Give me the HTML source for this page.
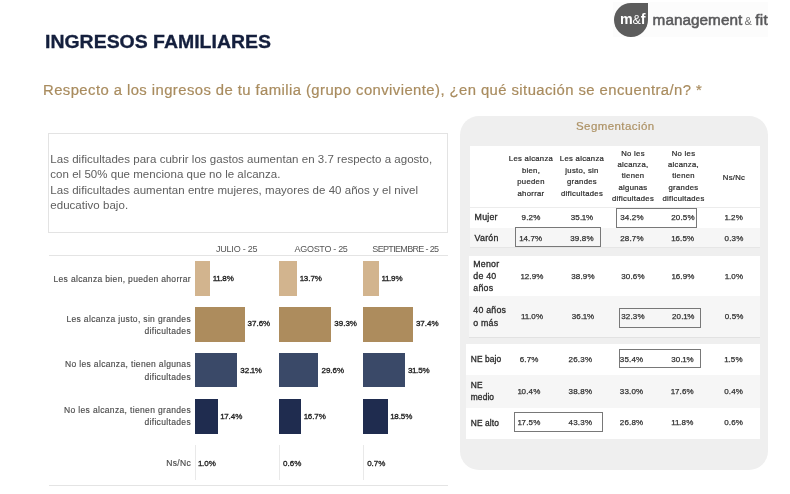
<!DOCTYPE html>
<html lang="es"><head><meta charset="utf-8"><title>Ingresos familiares</title>
<style>
html,body{margin:0;padding:0;background:#fff;}
body{width:790px;height:494px;position:relative;overflow:hidden;font-family:"Liberation Sans",sans-serif;}
.t{position:absolute;white-space:nowrap;}
.r{position:absolute;}
i{font-style:normal;}
.bx{position:absolute;border:1px solid #787878;box-sizing:border-box;}
</style></head><body>
<div class="t" style="left:45.20px;top:31px;font-size:17.6px;line-height:22px;color:#141f3d;font-weight:700;transform-origin:0 0;transform:scaleX(1.106);-webkit-text-stroke:0.3px #141f3d;">INGRESOS FAMILIARES</div>
<div class="t" style="left:43.00px;top:81px;font-size:14px;line-height:18px;color:#a98c5f;letter-spacing:0.40px;transform-origin:0 0;transform:scaleX(1.061);-webkit-text-stroke:0.2px #a98c5f;">Respecto a los ingresos de tu familia (grupo conviviente), ¿en qué situación se encuentra/n? *</div>
<div class="r" style="left:613.00px;top:2.00px;width:155.00px;height:35.00px;background:#fcfcfc;"></div>
<div class="r" style="left:614.00px;top:2.50px;width:34.00px;height:34.20px;background:#5c5c5c;border-radius:50% 0 50% 50%;"></div>
<div class="t" style="left:612.80px;width:40px;top:10px;font-size:14.3px;line-height:18px;color:#ffffff;font-weight:700;letter-spacing:0.20px;text-align:center;">m<span style="font-size:12.5px;font-weight:400;margin:0 -0.3px">&amp;</span>f</div>
<div class="t" style="left:652.60px;top:10px;font-size:15.3px;line-height:19px;color:#59595b;letter-spacing:0.04px;-webkit-text-stroke:0.55px #59595b;">management<span style="font-size:11px;color:#707070;margin:0 0.3px 0 -0.9px;-webkit-text-stroke:0"> &amp; </span><span style="letter-spacing:0.3px">fit</span></div>
<div class="r" style="left:47.50px;top:133.00px;width:400.50px;height:99.60px;background:#fff;border:1px solid #e3e3e3;box-sizing:border-box;"></div>
<div class="t" style="left:50.30px;top:152px;font-size:11.5px;line-height:14px;color:#5e5e5e;letter-spacing:0.03px;">Las dificultades para cubrir los gastos aumentan en 3.7 respecto a agosto,</div>
<div class="t" style="left:50.30px;top:167px;font-size:11.5px;line-height:14px;color:#5e5e5e;letter-spacing:0.03px;">con el 50% que menciona que no le alcanza.</div>
<div class="t" style="left:50.30px;top:183px;font-size:11.5px;line-height:14px;color:#5e5e5e;letter-spacing:0.03px;">Las dificultades aumentan entre mujeres, mayores de 40 años y el nivel</div>
<div class="t" style="left:50.30px;top:198px;font-size:11.5px;line-height:14px;color:#5e5e5e;letter-spacing:0.03px;">educativo bajo.</div>
<div class="r" style="left:49.00px;top:255.00px;width:398.70px;height:1.00px;background:#e4e4e4;"></div>
<div class="r" style="left:49.00px;top:485.00px;width:398.70px;height:1.00px;background:#e4e4e4;"></div>
<div class="t" style="left:216.00px;top:243px;font-size:9px;line-height:12px;color:#555;letter-spacing:-0.22px;">JULIO - 25</div>
<div class="t" style="left:294.60px;top:243px;font-size:9px;line-height:12px;color:#555;letter-spacing:-0.31px;">AGOSTO - 25</div>
<div class="t" style="left:372.30px;top:243px;font-size:9px;line-height:12px;color:#555;letter-spacing:-0.66px;">SEPTIEMBRE - 25</div>
<div class="r" style="left:194.60px;top:261.00px;width:15.69px;height:34.80px;background:#d2b48e;"></div>
<div class="t" style="left:213.29px;top:273px;font-size:8.0px;line-height:11px;color:#1e1e1e;letter-spacing:-0.02px;-webkit-text-stroke:0.32px #1e1e1e;"><i style="margin:0 -0.5px">1</i><i style="margin:0 -0.5px">1</i>.8%</div>
<div class="r" style="left:279.10px;top:261.00px;width:18.22px;height:34.80px;background:#d2b48e;"></div>
<div class="t" style="left:300.32px;top:273px;font-size:8.0px;line-height:11px;color:#1e1e1e;letter-spacing:-0.02px;-webkit-text-stroke:0.32px #1e1e1e;"><i style="margin:0 -0.5px">1</i>3.7%</div>
<div class="r" style="left:363.20px;top:261.00px;width:15.83px;height:34.80px;background:#d2b48e;"></div>
<div class="t" style="left:382.03px;top:273px;font-size:8.0px;line-height:11px;color:#1e1e1e;letter-spacing:-0.02px;-webkit-text-stroke:0.32px #1e1e1e;"><i style="margin:0 -0.5px">1</i><i style="margin:0 -0.5px">1</i>.9%</div>
<div class="t" style="right:599.00px;top:273px;font-size:8.5px;line-height:12px;color:#4c4c4c;letter-spacing:0.34px;text-align:right;-webkit-text-stroke:0.15px #4c4c4c;">Les alcanza bien, pueden ahorrar</div>
<div class="r" style="left:194.60px;top:307.40px;width:50.01px;height:34.20px;background:#ad8c5d;"></div>
<div class="t" style="left:247.61px;top:318px;font-size:8.0px;line-height:11px;color:#1e1e1e;letter-spacing:-0.02px;-webkit-text-stroke:0.32px #1e1e1e;">37.6%</div>
<div class="r" style="left:279.10px;top:307.40px;width:52.27px;height:34.20px;background:#ad8c5d;"></div>
<div class="t" style="left:334.37px;top:318px;font-size:8.0px;line-height:11px;color:#1e1e1e;letter-spacing:-0.02px;-webkit-text-stroke:0.32px #1e1e1e;">39.3%</div>
<div class="r" style="left:363.20px;top:307.40px;width:49.74px;height:34.20px;background:#ad8c5d;"></div>
<div class="t" style="left:415.94px;top:318px;font-size:8.0px;line-height:11px;color:#1e1e1e;letter-spacing:-0.02px;-webkit-text-stroke:0.32px #1e1e1e;">37.4%</div>
<div class="t" style="right:599.00px;top:313px;font-size:8.5px;line-height:12px;color:#4c4c4c;letter-spacing:0.34px;text-align:right;-webkit-text-stroke:0.15px #4c4c4c;">Les alcanza justo, sin grandes</div>
<div class="t" style="right:599.00px;top:325px;font-size:8.5px;line-height:12px;color:#4c4c4c;letter-spacing:0.34px;text-align:right;-webkit-text-stroke:0.15px #4c4c4c;">dificultades</div>
<div class="r" style="left:194.60px;top:353.20px;width:42.69px;height:34.30px;background:#3a4968;"></div>
<div class="t" style="left:240.29px;top:365px;font-size:8.0px;line-height:11px;color:#1e1e1e;letter-spacing:-0.02px;-webkit-text-stroke:0.32px #1e1e1e;">32.<i style="margin:0 -0.5px">1</i>%</div>
<div class="r" style="left:279.10px;top:353.20px;width:39.37px;height:34.30px;background:#3a4968;"></div>
<div class="t" style="left:321.47px;top:365px;font-size:8.0px;line-height:11px;color:#1e1e1e;letter-spacing:-0.02px;-webkit-text-stroke:0.32px #1e1e1e;">29.6%</div>
<div class="r" style="left:363.20px;top:353.20px;width:41.89px;height:34.30px;background:#3a4968;"></div>
<div class="t" style="left:408.09px;top:365px;font-size:8.0px;line-height:11px;color:#1e1e1e;letter-spacing:-0.02px;-webkit-text-stroke:0.32px #1e1e1e;">3<i style="margin:0 -0.5px">1</i>.5%</div>
<div class="t" style="right:599.00px;top:358px;font-size:8.5px;line-height:12px;color:#4c4c4c;letter-spacing:0.34px;text-align:right;-webkit-text-stroke:0.15px #4c4c4c;">No les alcanza, tienen algunas</div>
<div class="t" style="right:599.00px;top:371px;font-size:8.5px;line-height:12px;color:#4c4c4c;letter-spacing:0.34px;text-align:right;-webkit-text-stroke:0.15px #4c4c4c;">dificultades</div>
<div class="r" style="left:194.60px;top:399.40px;width:23.14px;height:34.40px;background:#1f2c4f;"></div>
<div class="t" style="left:220.74px;top:411px;font-size:8.0px;line-height:11px;color:#1e1e1e;letter-spacing:-0.02px;-webkit-text-stroke:0.32px #1e1e1e;"><i style="margin:0 -0.5px">1</i>7.4%</div>
<div class="r" style="left:279.10px;top:399.40px;width:22.21px;height:34.40px;background:#1f2c4f;"></div>
<div class="t" style="left:304.31px;top:411px;font-size:8.0px;line-height:11px;color:#1e1e1e;letter-spacing:-0.02px;-webkit-text-stroke:0.32px #1e1e1e;"><i style="margin:0 -0.5px">1</i>6.7%</div>
<div class="r" style="left:363.20px;top:399.40px;width:24.61px;height:34.40px;background:#1f2c4f;"></div>
<div class="t" style="left:390.81px;top:411px;font-size:8.0px;line-height:11px;color:#1e1e1e;letter-spacing:-0.02px;-webkit-text-stroke:0.32px #1e1e1e;"><i style="margin:0 -0.5px">1</i>8.5%</div>
<div class="t" style="right:599.00px;top:404px;font-size:8.5px;line-height:12px;color:#4c4c4c;letter-spacing:0.34px;text-align:right;-webkit-text-stroke:0.15px #4c4c4c;">No les alcanza, tienen grandes</div>
<div class="t" style="right:599.00px;top:416px;font-size:8.5px;line-height:12px;color:#4c4c4c;letter-spacing:0.34px;text-align:right;-webkit-text-stroke:0.15px #4c4c4c;">dificultades</div>
<div class="r" style="left:194.60px;top:445.00px;width:1.00px;height:35.00px;background:#e9e9e9;"></div>
<div class="t" style="left:198.60px;top:458px;font-size:8.0px;line-height:11px;color:#1e1e1e;letter-spacing:-0.02px;-webkit-text-stroke:0.32px #1e1e1e;"><i style="margin:0 -0.5px">1</i>.0%</div>
<div class="r" style="left:279.10px;top:445.00px;width:1.00px;height:35.00px;background:#e9e9e9;"></div>
<div class="t" style="left:283.10px;top:458px;font-size:8.0px;line-height:11px;color:#1e1e1e;letter-spacing:-0.02px;-webkit-text-stroke:0.32px #1e1e1e;">0.6%</div>
<div class="r" style="left:363.20px;top:445.00px;width:1.00px;height:35.00px;background:#e9e9e9;"></div>
<div class="t" style="left:367.20px;top:458px;font-size:8.0px;line-height:11px;color:#1e1e1e;letter-spacing:-0.02px;-webkit-text-stroke:0.32px #1e1e1e;">0.7%</div>
<div class="t" style="right:599.00px;top:457px;font-size:8.5px;line-height:12px;color:#4c4c4c;letter-spacing:0.34px;text-align:right;-webkit-text-stroke:0.15px #4c4c4c;">Ns/Nc</div>
<div class="r" style="left:459.50px;top:115.60px;width:308.50px;height:354.40px;background:#efefef;border-radius:19px;"></div>
<div class="t" style="left:555.30px;width:120px;top:119px;font-size:11.5px;line-height:14px;color:#ad9265;letter-spacing:0.42px;text-align:center;-webkit-text-stroke:0.2px #ad9265;">Segmentación</div>
<div class="r" style="left:469.70px;top:146.40px;width:290.30px;height:81.60px;background:#fff;"></div>
<div class="r" style="left:469.70px;top:228.00px;width:290.30px;height:19.40px;background:#f6f6f6;"></div>
<div class="r" style="left:469.70px;top:207.00px;width:290.30px;height:0.80px;background:#ececec;"></div>
<div class="r" style="left:469.70px;top:247.40px;width:290.30px;height:0.80px;background:#e6e6e6;"></div>
<div class="r" style="left:469.00px;top:255.80px;width:291.00px;height:40.50px;background:#fff;"></div>
<div class="r" style="left:469.00px;top:296.30px;width:291.00px;height:41.10px;background:#f6f6f6;"></div>
<div class="r" style="left:469.00px;top:337.20px;width:291.00px;height:0.80px;background:#e2e2e2;"></div>
<div class="r" style="left:465.70px;top:343.50px;width:294.30px;height:31.50px;background:#fff;"></div>
<div class="r" style="left:465.70px;top:375.00px;width:294.30px;height:32.80px;background:#f6f6f6;"></div>
<div class="r" style="left:465.70px;top:407.80px;width:294.30px;height:31.40px;background:#fff;"></div>
<div class="t" style="left:501.00px;width:60px;top:153px;font-size:7.7px;line-height:11px;color:#2c2c2c;letter-spacing:0.30px;text-align:center;-webkit-text-stroke:0.22px #2c2c2c;">Les alcanza</div>
<div class="t" style="left:501.00px;width:60px;top:165px;font-size:7.7px;line-height:11px;color:#2c2c2c;letter-spacing:0.30px;text-align:center;-webkit-text-stroke:0.22px #2c2c2c;">bien,</div>
<div class="t" style="left:501.00px;width:60px;top:176px;font-size:7.7px;line-height:11px;color:#2c2c2c;letter-spacing:0.30px;text-align:center;-webkit-text-stroke:0.22px #2c2c2c;">pueden</div>
<div class="t" style="left:501.00px;width:60px;top:188px;font-size:7.7px;line-height:11px;color:#2c2c2c;letter-spacing:0.30px;text-align:center;-webkit-text-stroke:0.22px #2c2c2c;">ahorrar</div>
<div class="t" style="left:552.00px;width:60px;top:153px;font-size:7.7px;line-height:11px;color:#2c2c2c;letter-spacing:0.30px;text-align:center;-webkit-text-stroke:0.22px #2c2c2c;">Les alcanza</div>
<div class="t" style="left:552.00px;width:60px;top:165px;font-size:7.7px;line-height:11px;color:#2c2c2c;letter-spacing:0.30px;text-align:center;-webkit-text-stroke:0.22px #2c2c2c;">justo, sin</div>
<div class="t" style="left:552.00px;width:60px;top:176px;font-size:7.7px;line-height:11px;color:#2c2c2c;letter-spacing:0.30px;text-align:center;-webkit-text-stroke:0.22px #2c2c2c;">grandes</div>
<div class="t" style="left:552.00px;width:60px;top:188px;font-size:7.7px;line-height:11px;color:#2c2c2c;letter-spacing:0.30px;text-align:center;-webkit-text-stroke:0.22px #2c2c2c;">dificultades</div>
<div class="t" style="left:603.00px;width:60px;top:148px;font-size:7.7px;line-height:11px;color:#2c2c2c;letter-spacing:0.30px;text-align:center;-webkit-text-stroke:0.22px #2c2c2c;">No les</div>
<div class="t" style="left:603.00px;width:60px;top:159px;font-size:7.7px;line-height:11px;color:#2c2c2c;letter-spacing:0.30px;text-align:center;-webkit-text-stroke:0.22px #2c2c2c;">alcanza,</div>
<div class="t" style="left:603.00px;width:60px;top:170px;font-size:7.7px;line-height:11px;color:#2c2c2c;letter-spacing:0.30px;text-align:center;-webkit-text-stroke:0.22px #2c2c2c;">tienen</div>
<div class="t" style="left:603.00px;width:60px;top:182px;font-size:7.7px;line-height:11px;color:#2c2c2c;letter-spacing:0.30px;text-align:center;-webkit-text-stroke:0.22px #2c2c2c;">algunas</div>
<div class="t" style="left:603.00px;width:60px;top:193px;font-size:7.7px;line-height:11px;color:#2c2c2c;letter-spacing:0.30px;text-align:center;-webkit-text-stroke:0.22px #2c2c2c;">dificultades</div>
<div class="t" style="left:653.50px;width:60px;top:148px;font-size:7.7px;line-height:11px;color:#2c2c2c;letter-spacing:0.30px;text-align:center;-webkit-text-stroke:0.22px #2c2c2c;">No les</div>
<div class="t" style="left:653.50px;width:60px;top:159px;font-size:7.7px;line-height:11px;color:#2c2c2c;letter-spacing:0.30px;text-align:center;-webkit-text-stroke:0.22px #2c2c2c;">alcanza,</div>
<div class="t" style="left:653.50px;width:60px;top:170px;font-size:7.7px;line-height:11px;color:#2c2c2c;letter-spacing:0.30px;text-align:center;-webkit-text-stroke:0.22px #2c2c2c;">tienen</div>
<div class="t" style="left:653.50px;width:60px;top:182px;font-size:7.7px;line-height:11px;color:#2c2c2c;letter-spacing:0.30px;text-align:center;-webkit-text-stroke:0.22px #2c2c2c;">grandes</div>
<div class="t" style="left:653.50px;width:60px;top:193px;font-size:7.7px;line-height:11px;color:#2c2c2c;letter-spacing:0.30px;text-align:center;-webkit-text-stroke:0.22px #2c2c2c;">dificultades</div>
<div class="t" style="left:704.00px;width:60px;top:172px;font-size:7.7px;line-height:11px;color:#2c2c2c;letter-spacing:0.30px;text-align:center;-webkit-text-stroke:0.22px #2c2c2c;">Ns/Nc</div>
<div class="t" style="left:474.60px;top:211px;font-size:8.8px;line-height:12px;color:#2a2a2a;letter-spacing:0.22px;-webkit-text-stroke:0.3px #2a2a2a;">Mujer</div>
<div class="t" style="left:506.00px;width:50px;top:212px;font-size:8.0px;line-height:11px;color:#303030;letter-spacing:0.18px;text-align:center;-webkit-text-stroke:0.25px #303030;">9.2%</div>
<div class="t" style="left:557.00px;width:50px;top:212px;font-size:8.0px;line-height:11px;color:#303030;letter-spacing:0.18px;text-align:center;-webkit-text-stroke:0.25px #303030;">35.<i style="margin:0 -0.45px">1</i>%</div>
<div class="t" style="left:607.00px;width:50px;top:212px;font-size:8.0px;line-height:11px;color:#303030;letter-spacing:0.18px;text-align:center;-webkit-text-stroke:0.25px #303030;">34.2%</div>
<div class="t" style="left:658.00px;width:50px;top:212px;font-size:8.0px;line-height:11px;color:#303030;letter-spacing:0.18px;text-align:center;-webkit-text-stroke:0.25px #303030;">20.5%</div>
<div class="t" style="left:709.00px;width:50px;top:212px;font-size:8.0px;line-height:11px;color:#303030;letter-spacing:0.18px;text-align:center;-webkit-text-stroke:0.25px #303030;"><i style="margin:0 -0.45px">1</i>.2%</div>
<div class="t" style="left:474.60px;top:232px;font-size:8.8px;line-height:12px;color:#2a2a2a;letter-spacing:0.22px;-webkit-text-stroke:0.3px #2a2a2a;">Varón</div>
<div class="t" style="left:506.00px;width:50px;top:233px;font-size:8.0px;line-height:11px;color:#303030;letter-spacing:0.18px;text-align:center;-webkit-text-stroke:0.25px #303030;"><i style="margin:0 -0.45px">1</i>4.7%</div>
<div class="t" style="left:557.00px;width:50px;top:233px;font-size:8.0px;line-height:11px;color:#303030;letter-spacing:0.18px;text-align:center;-webkit-text-stroke:0.25px #303030;">39.8%</div>
<div class="t" style="left:607.00px;width:50px;top:233px;font-size:8.0px;line-height:11px;color:#303030;letter-spacing:0.18px;text-align:center;-webkit-text-stroke:0.25px #303030;">28.7%</div>
<div class="t" style="left:658.00px;width:50px;top:233px;font-size:8.0px;line-height:11px;color:#303030;letter-spacing:0.18px;text-align:center;-webkit-text-stroke:0.25px #303030;"><i style="margin:0 -0.45px">1</i>6.5%</div>
<div class="t" style="left:709.00px;width:50px;top:233px;font-size:8.0px;line-height:11px;color:#303030;letter-spacing:0.18px;text-align:center;-webkit-text-stroke:0.25px #303030;">0.3%</div>
<div class="t" style="left:473.30px;top:258px;font-size:8.8px;line-height:12px;color:#2a2a2a;letter-spacing:0.22px;-webkit-text-stroke:0.3px #2a2a2a;">Menor</div>
<div class="t" style="left:473.30px;top:270px;font-size:8.8px;line-height:12px;color:#2a2a2a;letter-spacing:0.22px;-webkit-text-stroke:0.3px #2a2a2a;">de 40</div>
<div class="t" style="left:473.30px;top:282px;font-size:8.8px;line-height:12px;color:#2a2a2a;letter-spacing:0.22px;-webkit-text-stroke:0.3px #2a2a2a;">años</div>
<div class="t" style="left:507.30px;width:50px;top:271px;font-size:8.0px;line-height:11px;color:#303030;letter-spacing:0.18px;text-align:center;-webkit-text-stroke:0.25px #303030;"><i style="margin:0 -0.45px">1</i>2.9%</div>
<div class="t" style="left:558.00px;width:50px;top:271px;font-size:8.0px;line-height:11px;color:#303030;letter-spacing:0.18px;text-align:center;-webkit-text-stroke:0.25px #303030;">38.9%</div>
<div class="t" style="left:608.00px;width:50px;top:271px;font-size:8.0px;line-height:11px;color:#303030;letter-spacing:0.18px;text-align:center;-webkit-text-stroke:0.25px #303030;">30.6%</div>
<div class="t" style="left:658.30px;width:50px;top:271px;font-size:8.0px;line-height:11px;color:#303030;letter-spacing:0.18px;text-align:center;-webkit-text-stroke:0.25px #303030;"><i style="margin:0 -0.45px">1</i>6.9%</div>
<div class="t" style="left:709.20px;width:50px;top:271px;font-size:8.0px;line-height:11px;color:#303030;letter-spacing:0.18px;text-align:center;-webkit-text-stroke:0.25px #303030;"><i style="margin:0 -0.45px">1</i>.0%</div>
<div class="t" style="left:473.30px;top:304px;font-size:8.8px;line-height:12px;color:#2a2a2a;letter-spacing:0.22px;-webkit-text-stroke:0.3px #2a2a2a;">40 años</div>
<div class="t" style="left:473.30px;top:317px;font-size:8.8px;line-height:12px;color:#2a2a2a;letter-spacing:0.22px;-webkit-text-stroke:0.3px #2a2a2a;">o más</div>
<div class="t" style="left:507.30px;width:50px;top:311px;font-size:8.0px;line-height:11px;color:#303030;letter-spacing:0.18px;text-align:center;-webkit-text-stroke:0.25px #303030;"><i style="margin:0 -0.45px">1</i><i style="margin:0 -0.45px">1</i>.0%</div>
<div class="t" style="left:558.00px;width:50px;top:311px;font-size:8.0px;line-height:11px;color:#303030;letter-spacing:0.18px;text-align:center;-webkit-text-stroke:0.25px #303030;">36.<i style="margin:0 -0.45px">1</i>%</div>
<div class="t" style="left:608.00px;width:50px;top:311px;font-size:8.0px;line-height:11px;color:#303030;letter-spacing:0.18px;text-align:center;-webkit-text-stroke:0.25px #303030;">32.3%</div>
<div class="t" style="left:658.30px;width:50px;top:311px;font-size:8.0px;line-height:11px;color:#303030;letter-spacing:0.18px;text-align:center;-webkit-text-stroke:0.25px #303030;">20.<i style="margin:0 -0.45px">1</i>%</div>
<div class="t" style="left:709.20px;width:50px;top:311px;font-size:8.0px;line-height:11px;color:#303030;letter-spacing:0.18px;text-align:center;-webkit-text-stroke:0.25px #303030;">0.5%</div>
<div class="t" style="left:470.80px;top:353px;font-size:8.4px;line-height:12px;color:#2a2a2a;letter-spacing:0.10px;-webkit-text-stroke:0.3px #2a2a2a;">NE bajo</div>
<div class="t" style="left:504.20px;width:50px;top:354px;font-size:8.0px;line-height:11px;color:#303030;letter-spacing:0.18px;text-align:center;-webkit-text-stroke:0.25px #303030;">6.7%</div>
<div class="t" style="left:555.40px;width:50px;top:354px;font-size:8.0px;line-height:11px;color:#303030;letter-spacing:0.18px;text-align:center;-webkit-text-stroke:0.25px #303030;">26.3%</div>
<div class="t" style="left:606.60px;width:50px;top:354px;font-size:8.0px;line-height:11px;color:#303030;letter-spacing:0.18px;text-align:center;-webkit-text-stroke:0.25px #303030;">35.4%</div>
<div class="t" style="left:657.50px;width:50px;top:354px;font-size:8.0px;line-height:11px;color:#303030;letter-spacing:0.18px;text-align:center;-webkit-text-stroke:0.25px #303030;">30.<i style="margin:0 -0.45px">1</i>%</div>
<div class="t" style="left:708.70px;width:50px;top:354px;font-size:8.0px;line-height:11px;color:#303030;letter-spacing:0.18px;text-align:center;-webkit-text-stroke:0.25px #303030;"><i style="margin:0 -0.45px">1</i>.5%</div>
<div class="t" style="left:470.80px;top:379px;font-size:8.4px;line-height:12px;color:#2a2a2a;letter-spacing:0.10px;-webkit-text-stroke:0.3px #2a2a2a;">NE</div>
<div class="t" style="left:470.80px;top:391px;font-size:8.4px;line-height:12px;color:#2a2a2a;letter-spacing:0.10px;-webkit-text-stroke:0.3px #2a2a2a;">medio</div>
<div class="t" style="left:504.20px;width:50px;top:386px;font-size:8.0px;line-height:11px;color:#303030;letter-spacing:0.18px;text-align:center;-webkit-text-stroke:0.25px #303030;"><i style="margin:0 -0.45px">1</i>0.4%</div>
<div class="t" style="left:555.40px;width:50px;top:386px;font-size:8.0px;line-height:11px;color:#303030;letter-spacing:0.18px;text-align:center;-webkit-text-stroke:0.25px #303030;">38.8%</div>
<div class="t" style="left:606.60px;width:50px;top:386px;font-size:8.0px;line-height:11px;color:#303030;letter-spacing:0.18px;text-align:center;-webkit-text-stroke:0.25px #303030;">33.0%</div>
<div class="t" style="left:657.50px;width:50px;top:386px;font-size:8.0px;line-height:11px;color:#303030;letter-spacing:0.18px;text-align:center;-webkit-text-stroke:0.25px #303030;"><i style="margin:0 -0.45px">1</i>7.6%</div>
<div class="t" style="left:708.70px;width:50px;top:386px;font-size:8.0px;line-height:11px;color:#303030;letter-spacing:0.18px;text-align:center;-webkit-text-stroke:0.25px #303030;">0.4%</div>
<div class="t" style="left:470.80px;top:417px;font-size:8.4px;line-height:12px;color:#2a2a2a;letter-spacing:0.10px;-webkit-text-stroke:0.3px #2a2a2a;">NE alto</div>
<div class="t" style="left:504.20px;width:50px;top:417px;font-size:8.0px;line-height:11px;color:#303030;letter-spacing:0.18px;text-align:center;-webkit-text-stroke:0.25px #303030;"><i style="margin:0 -0.45px">1</i>7.5%</div>
<div class="t" style="left:555.40px;width:50px;top:417px;font-size:8.0px;line-height:11px;color:#303030;letter-spacing:0.18px;text-align:center;-webkit-text-stroke:0.25px #303030;">43.3%</div>
<div class="t" style="left:606.60px;width:50px;top:417px;font-size:8.0px;line-height:11px;color:#303030;letter-spacing:0.18px;text-align:center;-webkit-text-stroke:0.25px #303030;">26.8%</div>
<div class="t" style="left:657.50px;width:50px;top:417px;font-size:8.0px;line-height:11px;color:#303030;letter-spacing:0.18px;text-align:center;-webkit-text-stroke:0.25px #303030;"><i style="margin:0 -0.45px">1</i><i style="margin:0 -0.45px">1</i>.8%</div>
<div class="t" style="left:708.70px;width:50px;top:417px;font-size:8.0px;line-height:11px;color:#303030;letter-spacing:0.18px;text-align:center;-webkit-text-stroke:0.25px #303030;">0.6%</div>
<div class="bx" style="left:615.7px;top:207.7px;width:81.0px;height:19.9px"></div>
<div class="bx" style="left:515.3px;top:227.2px;width:85.8px;height:19.6px"></div>
<div class="bx" style="left:619.2px;top:308.0px;width:81.6px;height:19.6px"></div>
<div class="bx" style="left:619.2px;top:348.5px;width:81.6px;height:19.9px"></div>
<div class="bx" style="left:514.0px;top:412.0px;width:89.4px;height:20.0px"></div>
</body></html>
